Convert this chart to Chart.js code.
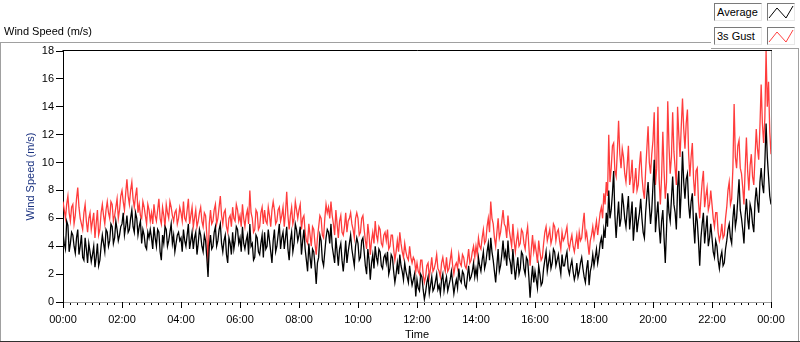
<!DOCTYPE html>
<html><head><meta charset="utf-8">
<script src="https://cdn.jsdelivr.net/npm/chart.js@4/dist/chart.umd.min.js"></script>
<style>
html,body{margin:0;padding:0;background:#fff;}
#wrap{position:relative;width:800px;height:342px;overflow:hidden;font-family:"Liberation Sans",Arial,sans-serif;}
#c{position:absolute;left:0;top:0;}
#title{position:absolute;left:4px;top:25px;font-size:11px;line-height:13px;color:#000;white-space:nowrap;}
#legend{position:absolute;left:711px;top:0;width:88px;height:48px;background:#fff;border-bottom:1px solid #a0a0a0;}
.lbl{position:absolute;left:3px;width:44px;height:16px;border:1px solid;border-color:#7a7a7a #e8e8e8 #e8e8e8 #7a7a7a;background:#fff;font-size:11px;line-height:16px;padding-left:2px;color:#000;white-space:nowrap;}
.gly{position:absolute;left:56px;width:26px;height:16px;border:1px solid;border-color:#7a7a7a #e8e8e8 #e8e8e8 #7a7a7a;background:#fff;}
.gly svg{position:absolute;left:0;top:0;}
</style></head>
<body>
<div id="wrap">
<canvas id="c" width="800" height="342"></canvas>
<div id="title">Wind Speed (m/s)</div>
<div id="legend">
  <div class="lbl" style="top:3px">Average</div>
  <div class="gly" style="top:3px"><svg width="26" height="16"><polyline points="1,14 9,4 18,14 25,2" fill="none" stroke="#000" stroke-width="1"/></svg></div>
  <div class="lbl" style="top:27px">3s Gust</div>
  <div class="gly" style="top:27px"><svg width="26" height="16"><polyline points="1,14 9,4 18,14 25,2" fill="none" stroke="#ff4040" stroke-width="1"/></svg></div>
</div>
</div>
<script>
// Series sampled every 2.5 minutes from 00:00 to 24:00; one row per hour.
const average = [
 5.0,4.2,3.8,5.8,5.5,3.6,4.2,5.0,4.8,4.0,3.5,4.6,5.2,3.4,4.0,4.8,3.2,3.0,4.6,3.8,2.8,4.2,3.6,2.9,
 3.4,4.0,2.5,3.2,4.2,2.6,3.0,4.0,4.8,4.2,3.6,5.2,5.0,4.0,4.4,5.6,5.4,4.2,4.6,5.8,5.2,4.4,4.8,5.4,
 5.6,6.4,4.8,5.4,6.2,5.0,5.2,6.0,6.6,5.4,5.0,6.4,6.0,4.8,5.4,5.8,4.2,5.2,4.8,4.0,3.8,5.0,4.6,5.2,
 4.6,3.8,5.4,4.6,4.0,5.2,5.0,3.6,3.0,4.8,4.2,5.4,5.2,4.0,4.4,5.0,5.6,4.2,4.8,3.6,4.2,4.8,5.0,4.4,
 4.6,3.6,5.2,4.4,4.0,4.8,5.6,3.8,4.4,5.0,3.8,4.6,5.0,3.4,4.2,5.2,4.8,4.0,3.6,4.8,4.4,3.2,1.8,4.0,
 4.8,3.8,4.0,5.0,5.4,4.0,4.4,5.2,5.6,4.2,3.6,4.4,4.8,3.4,2.8,4.6,4.2,3.4,5.0,3.8,4.4,5.4,5.2,4.2,
 4.6,3.6,5.4,4.2,3.8,4.4,4.8,3.4,5.6,4.0,4.2,3.0,3.2,4.8,4.6,3.6,3.4,4.2,4.8,3.2,5.0,3.8,4.0,5.2,
 4.4,3.6,2.8,4.4,5.2,3.6,4.0,4.8,5.6,3.8,4.6,5.0,3.8,4.6,5.4,3.8,3.0,4.4,5.0,3.6,4.2,5.6,5.2,4.4,
 4.8,5.4,3.4,4.4,5.2,3.8,3.0,2.2,4.2,3.2,2.4,3.8,3.6,2.6,1.3,2.8,3.2,4.8,4.4,3.0,2.6,3.6,4.6,5.2,
 5.0,4.2,5.6,4.0,3.4,2.8,4.6,3.6,2.6,3.8,4.2,3.0,2.2,3.2,4.4,2.8,3.6,4.2,4.8,3.8,3.2,2.6,4.0,4.6,
 4.2,3.0,3.2,4.4,4.6,3.6,2.6,2.0,3.8,3.0,1.6,2.8,3.4,2.4,4.0,3.2,2.8,3.8,3.6,2.6,2.4,3.2,3.4,2.8,
 3.6,2.0,2.4,3.4,3.2,2.2,1.4,2.0,2.8,2.0,3.4,2.6,2.2,1.6,2.8,2.2,1.8,1.4,2.6,1.8,1.2,1.6,2.0,0.4,
 1.6,1.0,0.8,2.0,1.8,0.9,0.2,0.7,1.4,1.8,0.6,1.2,1.8,0.8,1.0,1.5,2.0,0.9,1.2,0.6,1.6,2.0,0.8,1.4,
 1.8,0.8,1.2,1.6,2.2,1.4,0.6,1.2,1.6,1.0,2.4,1.6,1.4,2.2,2.0,1.2,1.0,1.8,2.6,1.6,1.8,2.2,2.8,1.8,
 2.4,1.8,3.2,2.6,2.2,3.0,3.6,2.4,2.8,3.6,4.2,3.0,4.6,3.6,3.0,2.2,1.4,2.6,3.8,2.2,2.6,3.4,4.4,3.2,
 3.6,2.6,4.4,3.2,2.8,2.0,3.8,2.6,1.6,2.4,3.2,2.0,2.4,3.6,3.4,2.4,2.0,3.2,3.0,1.8,0.3,1.6,2.6,1.4,
 2.2,1.6,1.0,2.6,2.0,1.2,1.4,2.4,3.0,3.6,2.2,2.8,3.4,2.4,2.8,3.8,3.6,2.6,3.0,3.4,2.6,2.0,3.4,2.6,
 2.6,3.2,3.6,2.4,2.0,2.6,3.0,2.2,1.6,2.0,2.8,1.8,2.2,2.8,3.2,2.4,1.8,1.4,2.4,3.0,1.2,2.2,2.6,3.4,
 2.6,3.2,3.8,2.8,3.4,4.2,4.6,3.8,5.2,4.6,6.4,5.4,8.0,6.0,6.6,7.8,9.4,6.2,4.6,6.0,7.2,5.4,6.0,7.8,
 7.0,6.0,5.4,6.6,7.6,5.2,6.2,7.2,4.4,5.6,6.8,5.0,5.8,6.4,7.4,6.0,5.0,4.6,6.4,7.6,8.6,7.0,5.6,6.6,
 8.4,10.2,5.0,6.2,7.2,5.4,4.2,5.8,6.6,4.6,2.8,5.2,7.8,6.4,5.8,7.4,9.0,7.0,6.4,5.2,8.2,9.4,6.0,8.0,
 10.8,8.6,7.4,8.8,9.2,7.0,6.0,7.2,7.8,5.6,4.2,6.4,5.8,4.4,2.6,4.6,5.6,6.4,4.2,5.2,6.2,4.0,4.6,5.6,
 4.6,3.6,3.2,4.4,4.0,3.0,2.4,3.2,3.6,2.6,2.8,3.8,4.4,5.2,5.6,4.6,4.2,6.0,7.0,5.4,6.0,7.4,8.8,6.6,
 6.0,5.2,4.2,6.2,7.4,6.0,5.2,7.0,6.6,5.6,5.0,7.2,8.2,7.2,6.4,8.6,9.6,8.4,7.8,10.0,12.8,10.4,9.0,7.6,7.0
];
const gust = [
 7.2,6.6,6.0,7.0,7.6,6.4,5.8,6.8,7.0,5.6,6.2,7.4,8.2,6.8,6.0,5.6,5.2,6.4,7.0,5.8,5.0,6.0,6.4,5.2,
 5.8,6.4,4.6,5.6,6.6,4.8,5.2,6.4,7.0,6.2,5.6,6.6,7.2,6.4,6.0,7.2,7.0,5.8,6.2,6.8,7.4,6.0,6.6,7.6,
 8.0,7.2,6.6,7.8,8.8,7.6,7.0,8.0,8.6,7.4,6.8,7.6,8.2,6.4,7.0,6.2,6.0,7.2,6.8,6.2,5.6,7.0,6.6,5.8,
 6.4,5.6,7.0,6.2,5.8,6.6,7.4,6.0,5.6,6.8,6.2,5.4,7.0,6.4,6.0,7.2,6.8,6.2,5.8,6.4,6.6,5.6,6.0,6.8,
 6.4,5.8,7.2,6.0,5.8,6.6,7.4,5.6,6.2,6.8,5.4,6.0,6.6,5.4,5.8,6.4,6.8,5.8,5.4,6.4,6.2,4.8,2.8,5.6,
 6.6,5.6,5.8,6.6,7.0,5.6,6.0,6.8,7.6,6.2,5.6,6.4,6.6,5.4,5.0,6.0,6.2,5.4,6.8,6.0,5.8,7.0,6.6,5.8,
 6.2,5.4,7.0,6.0,5.4,6.2,6.6,5.6,8.0,6.4,6.0,5.0,5.2,6.6,6.4,5.2,5.4,6.4,6.8,5.6,6.6,5.8,5.6,6.8,
 6.2,5.4,6.6,7.2,6.6,5.6,5.8,6.6,6.8,5.8,6.2,6.8,5.4,6.4,7.9,6.2,5.2,6.2,6.8,5.6,6.0,7.2,6.6,6.0,
 6.6,7.0,5.2,6.0,6.2,5.0,4.4,4.2,5.6,4.8,4.0,5.4,5.2,4.2,3.4,4.6,5.4,6.2,6.0,4.8,4.6,6.0,7.0,6.4,
 6.8,6.0,7.2,6.2,5.6,4.8,6.6,5.6,4.6,5.8,6.2,5.0,4.8,5.4,6.4,5.0,5.8,6.0,6.4,5.6,5.2,4.6,6.0,6.4,
 6.0,4.8,5.0,6.0,6.2,5.2,4.4,3.8,5.6,4.8,3.4,4.4,5.0,4.2,5.8,4.8,4.4,5.4,5.2,4.2,4.0,4.8,5.0,4.4,
 5.2,3.8,4.0,4.8,4.8,3.8,3.0,3.6,4.4,3.6,5.0,4.2,3.6,3.2,4.2,3.6,3.2,3.0,4.0,3.2,2.8,3.2,3.0,2.2,
 2.8,2.2,2.0,3.0,3.0,2.0,1.4,1.8,2.6,2.8,1.8,2.4,3.2,2.2,2.4,2.8,3.4,2.4,2.2,1.8,2.8,3.2,2.6,2.2,
 3.2,2.2,2.4,3.0,3.6,2.6,2.0,2.6,2.8,2.4,3.4,2.8,2.6,3.4,3.2,2.6,2.4,3.0,3.8,2.8,3.0,3.6,4.0,3.2,
 4.0,3.4,4.6,4.0,3.8,4.6,5.2,4.2,4.4,5.4,6.0,5.0,7.2,6.0,5.6,4.6,4.0,5.0,6.0,4.6,5.0,5.8,6.6,5.6,
 5.4,4.6,6.2,5.2,4.6,4.0,5.6,4.4,3.6,4.4,5.0,4.0,4.2,5.2,5.0,4.2,3.8,4.8,5.4,4.0,2.6,3.8,4.8,3.6,
 4.2,3.6,2.8,4.4,3.6,3.0,3.2,4.2,5.0,5.4,4.4,4.8,5.2,4.2,4.6,5.6,5.4,4.4,5.0,5.2,4.4,3.8,5.0,4.4,
 4.6,5.0,5.4,4.2,3.8,4.4,4.8,4.0,3.6,4.2,4.8,3.8,5.0,4.4,4.6,5.6,6.4,4.6,5.0,4.2,3.4,4.4,4.8,5.4,
 4.6,5.2,5.8,4.8,5.6,6.4,6.8,6.0,7.8,7.0,8.6,7.6,12.0,8.6,9.6,11.2,11.4,9.4,9.0,10.8,13.0,10.6,9.6,11.0,
 10.4,9.2,8.6,9.8,11.2,8.4,9.0,10.2,7.8,8.6,9.6,8.0,8.4,9.8,10.8,9.0,8.0,7.4,9.4,11.0,12.6,10.0,9.2,10.6,
 11.6,13.6,8.4,9.6,14.0,8.8,7.0,9.0,12.2,9.4,7.4,8.6,14.4,11.2,9.2,10.4,13.6,10.8,9.6,8.4,14.0,12.0,10.4,12.6,
 14.6,12.4,11.0,12.8,13.8,10.6,9.0,10.4,11.4,8.8,7.6,9.4,9.6,7.2,6.0,7.4,8.6,9.4,6.8,7.6,8.2,6.6,7.0,8.0,
 7.0,6.0,5.4,6.4,6.4,5.0,4.4,4.8,5.6,4.6,4.8,6.0,6.8,8.0,8.6,7.0,7.4,9.6,14.2,10.4,9.6,11.2,11.6,9.6,
 9.2,8.2,7.0,9.6,11.8,9.4,8.0,9.8,10.6,9.0,8.4,10.4,12.4,11.0,10.2,12.6,15.6,12.8,11.4,13.2,18.0,14.0,15.8,12.2,10.6
];
const X_MIN = 0, X_MAX = 1440, X_MAJOR = 120, X_MINOR = 15;
const Y_MIN = 0, Y_MAX = 18, Y_STEP = 2;

function hhmm(m){ m = m % 1440; const h = Math.floor(m/60), mm = m%60; return String(h).padStart(2,'0')+':'+String(mm).padStart(2,'0'); }
const pts = arr => { const step = (X_MAX - X_MIN)/(arr.length - 1); return arr.map((v,i)=>({x:X_MIN + i*step, y:v})); };

const frame = {
  id:'frame',
  beforeDraw(chart){
    const c = chart.ctx; c.save();
    c.fillStyle='#fff'; c.fillRect(0,0,800,342);
    c.restore();
  },
  afterDraw(chart){
    const c = chart.ctx, a = chart.chartArea, xs = chart.scales.x;
    c.save();
    c.lineWidth = 1;
    c.strokeStyle='#000'; c.beginPath(); c.moveTo(a.left-0.5, a.top-0.5); c.lineTo(a.right+1, a.top-0.5); c.stroke();
    c.strokeStyle='#a0a0a0'; c.beginPath(); c.moveTo(a.right+0.5, a.top); c.lineTo(a.right+0.5, a.bottom+1); c.stroke();
    c.strokeStyle='#000';
    for (let v=X_MIN; v<=X_MAX; v+=X_MAJOR){
      const px = Math.round(xs.getPixelForValue(v))+0.5;
      c.beginPath(); c.moveTo(px, a.bottom); c.lineTo(px, a.bottom+6); c.stroke();
    }
    c.strokeStyle='#a0a0a0';
    c.beginPath(); c.moveTo(0, 42.5); c.lineTo(712, 42.5); c.stroke();
    c.beginPath(); c.moveTo(0.5, 42); c.lineTo(0.5, 342); c.stroke();
    c.beginPath(); c.moveTo(798.5, 0); c.lineTo(798.5, 342); c.stroke();
    c.strokeStyle='#303030';
    c.beginPath(); c.moveTo(0, 341.5); c.lineTo(800, 341.5); c.stroke();
    c.restore();
  }
};

const FONT = '"Liberation Sans", Arial, sans-serif';
new Chart(document.getElementById('c'), {
  type:'line',
  data:{ datasets:[
    {label:'Average', data:pts(average), borderColor:'#000000', borderWidth:1.3, pointRadius:0, tension:0, order:0},
    {label:'3s Gust', data:pts(gust), borderColor:'#ff3c3c', borderWidth:1.3, pointRadius:0, tension:0, order:1}
  ]},
  options:{
    responsive:false, animation:false, devicePixelRatio:1,
    layout:{padding:{left:0, right:29, top:51, bottom:0}},
    plugins:{legend:{display:false}, tooltip:{enabled:false}, title:{display:false}},
    scales:{
      x:{ type:'linear', min:X_MIN, max:X_MAX,
          afterBuildTicks(s){ const t=[]; for(let v=X_MIN; v<=X_MAX; v+=X_MINOR) t.push({value:v}); s.ticks=t; },
          afterFit(s){ s.height = 40; },
          ticks:{ autoSkip:false, maxRotation:0, minRotation:0, padding:8, color:'#000',
                  font:{family:FONT, size:11},
                  callback:(v)=> (v % X_MAJOR === 0 ? hhmm(v) : '') },
          grid:{ drawOnChartArea:false, drawTicks:true, tickLength:3, tickColor:'#000', color:'#000' },
          border:{ display:true, color:'#a0a0a0' },
          title:{ display:true, text:'Time', color:'#000', padding:{top:0,bottom:0},
                  font:{family:FONT, size:11} }
      },
      y:{ min:Y_MIN, max:Y_MAX,
          afterBuildTicks(s){ const t=[]; for(let v=Y_MIN; v<=Y_MAX; v+=Y_STEP) t.push({value:v}); s.ticks=t; },
          afterFit(s){ s.width = 63; },
          ticks:{ padding:2, color:'#000', font:{family:FONT, size:11} },
          grid:{ drawOnChartArea:false, drawTicks:true, tickLength:7, tickColor:'#000', color:'#000' },
          border:{ display:true, color:'#000' },
          title:{ display:true, text:'Wind Speed (m/s)', color:'#1a3280', padding:{top:24,bottom:0},
                  font:{family:FONT, size:11} }
      }
    }
  },
  plugins:[frame]
});
</script>
</body></html>
